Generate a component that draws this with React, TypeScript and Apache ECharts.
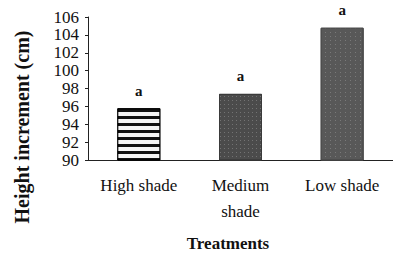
import React, { useEffect, useRef } from "react";
import * as echarts from "echarts";

const categories = ["High shade", "Medium\nshade", "Low shade"];
const heightValues = [95.8, 97.4, 104.8];
const letterLabels = ["a", "a", "a"];
const yTicks = { min: 90, max: 106, interval: 2 };
const yAxisTitle = "Height increment (cm)";
const xAxisTitle = "Treatments";

const FONT = "'Liberation Serif', 'DejaVu Serif', serif";

export default function App() {
  const ref = useRef<HTMLDivElement>(null);
  useEffect(() => {
    if (!ref.current) return;
    const chart = echarts.init(ref.current, undefined, { renderer: "svg" });
    const barStyles = [
      {
        color: "#111",
        borderColor: "#000",
        borderWidth: 1,
        decal: {
          symbol: "rect",
          symbolSize: 1,
          color: "#f4f4f4",
          dashArrayX: [1, 0],
          dashArrayY: [4, 2.5],
        },
      },
      {
        color: "#4b4b4b",
        borderColor: "#3a3a3a",
        borderWidth: 1,
        decal: {
          symbol: "rect",
          symbolSize: 1,
          color: "rgba(255,255,255,0.22)",
          dashArrayX: [[1, 3]],
          dashArrayY: [1, 3],
        },
      },
      {
        color: "#585858",
        borderColor: "#4a4a4a",
        borderWidth: 1,
        decal: {
          symbol: "rect",
          symbolSize: 1,
          color: "rgba(255,255,255,0.2)",
          dashArrayX: [[1, 4]],
          dashArrayY: [1, 3],
        },
      },
    ];
    chart.setOption({
      animation: false,
      backgroundColor: "#fff",
      grid: { left: 88, top: 17, bottom: 95, width: 313, containLabel: false },
      xAxis: {
        type: "category",
        data: categories,
        axisLine: { lineStyle: { color: "#222", width: 1 } },
        axisTick: { show: false },
        axisLabel: {
          fontFamily: FONT,
          fontSize: 17,
          color: "#111",
          margin: 12,
          lineHeight: 26,
          interval: 0,
        },
      },
      yAxis: {
        type: "value",
        min: yTicks.min,
        max: yTicks.max,
        interval: yTicks.interval,
        splitLine: { show: false },
        axisLine: { show: true, lineStyle: { color: "#222", width: 1 } },
        axisTick: { show: true, length: 3, inside: false, lineStyle: { color: "#222" } },
        axisLabel: {
          fontFamily: FONT,
          fontSize: 17,
          color: "#111",
          margin: 9,
        },
      },
      series: [
        {
          type: "bar",
          barWidth: 43,
          data: heightValues.map((v, i) => ({ value: v, itemStyle: barStyles[i] })),
          label: {
            show: true,
            position: "top",
            distance: 10,
            formatter: (p: any) => letterLabels[p.dataIndex],
            fontFamily: FONT,
            fontWeight: "bold",
            fontSize: 15,
            color: "#111",
          },
        },
      ],
      graphic: [
        {
          type: "text",
          x: 22,
          y: 127,
          rotation: Math.PI / 2,
          style: {
            text: yAxisTitle,
            fontFamily: FONT,
            fontWeight: "bold",
            fontSize: 20,
            fill: "#111",
            textAlign: "center",
            textVerticalAlign: "middle",
          },
        },
        {
          type: "text",
          x: 228,
          y: 243,
          style: {
            text: xAxisTitle,
            fontFamily: FONT,
            fontWeight: "bold",
            fontSize: 17,
            fill: "#111",
            textAlign: "center",
            textVerticalAlign: "middle",
          },
        },
      ],
    });
    return () => chart.dispose();
  }, []);
  return (
    <div
      ref={ref}
      style={{ position: "fixed", left: 0, top: 0, width: 393, height: 255, background: "#fff" }}
    />
  );
}
